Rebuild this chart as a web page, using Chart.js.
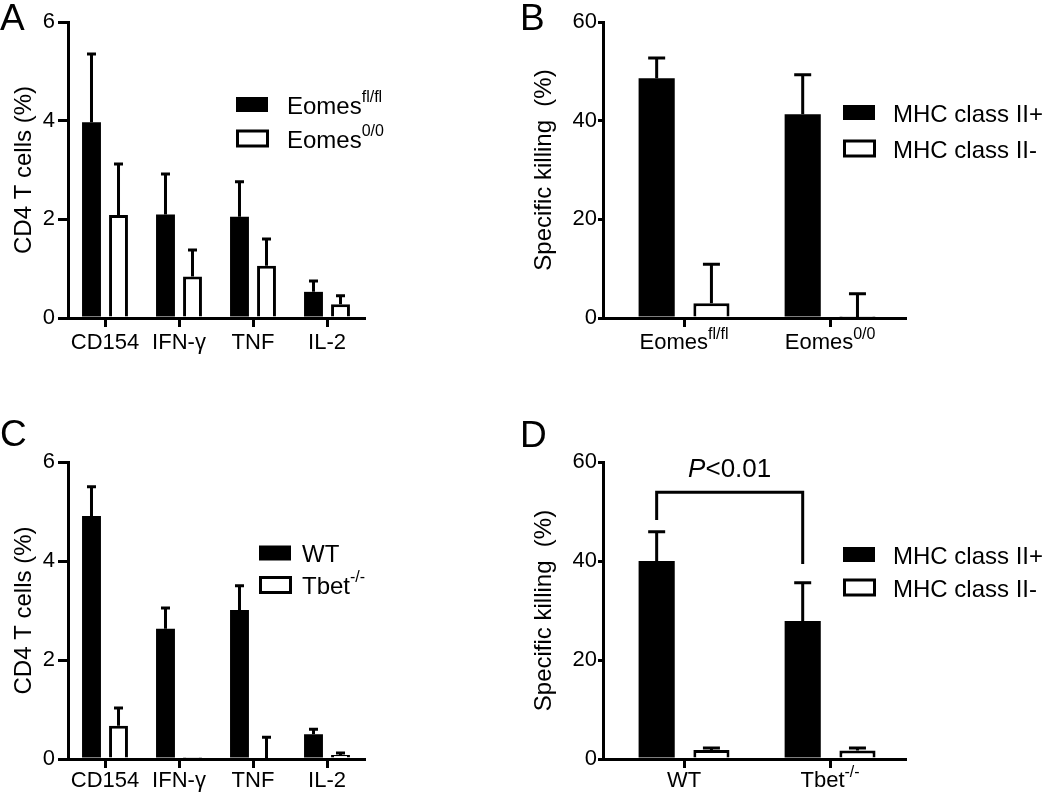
<!DOCTYPE html>
<html><head><meta charset="utf-8">
<script src="https://cdn.jsdelivr.net/npm/chart.js@4.4.1/dist/chart.umd.min.js"></script>
<style>
html,body{margin:0;padding:0;background:#fff;}
#wrap{position:relative;width:1050px;height:798px;overflow:hidden;background:#fff;}
canvas{position:absolute;}
</style></head><body>
<div id="wrap">
<canvas id="cA" width="520" height="390" style="left:0;top:0;width:520px;height:390px"></canvas>
<canvas id="cB" width="530" height="390" style="left:520px;top:0;width:530px;height:390px"></canvas>
<canvas id="cC" width="520" height="408" style="left:0;top:390px;width:520px;height:408px"></canvas>
<canvas id="cD" width="530" height="408" style="left:520px;top:390px;width:530px;height:408px"></canvas>
</div>
<script>
// ---------------- DATA ----------------
const cytokines = ['CD154', 'IFN-γ', 'TNF', 'IL-2'];
const cd4Ticks = [0, 2, 4, 6];
const killTicks = [0, 20, 40, 60];

// Panel A
const eomesFlFlMean = [3.97, 2.10, 2.05, 0.53];
const eomesFlFlSem  = [1.38, 0.82, 0.71, 0.22];
const eomes00Mean   = [2.09, 0.84, 1.06, 0.28];
const eomes00Sem    = [1.03, 0.54, 0.54, 0.17];

// Panel B
const killGroupsEomes     = ['Eomes fl/fl', 'Eomes 0/0'];
const killGroupsEomesBase = ['Eomes', 'Eomes'];
const killGroupsEomesSup  = ['fl/fl', '0/0'];
const mhcPosEomesMean = [48.6, 41.3];
const mhcPosEomesSem  = [4.1, 8.0];
const mhcNegEomesMean = [3.0, 0.2];
const mhcNegEomesSem  = [7.9, 4.7];

// Panel C
const wtMean   = [4.91, 2.63, 3.01, 0.50];
const wtSem    = [0.59, 0.42, 0.49, 0.10];
const tbetMean = [0.67, 0.02, 0.00, 0.08];
const tbetSem  = [0.36, 0.00, 0.44, 0.04];

// Panel D
const killGroupsTbet     = ['WT', 'Tbet-/-'];
const killGroupsTbetBase = ['WT', 'Tbet'];
const killGroupsTbetSup  = ['', '-/-'];
const mhcPosTbetMean = [40.0, 27.9];
const mhcPosTbetSem  = [5.9, 7.7];
const mhcNegTbetMean = [1.8, 1.7];
const mhcNegTbetSem  = [0.4, 0.5];
const sigBracket = { italic: 'P', rest: '<0.01', top: 53.9, leftEnd: 48.3, rightEnd: 39.4 };

// -------------- DRAWING ---------------
const F = "'Liberation Sans', Arial, Helvetica, sans-serif";

function drawSup(ctx, base, sup, x, y, size, supSize, rise, align) {
  ctx.font = size + 'px ' + F;
  const wb = ctx.measureText(base).width;
  ctx.font = supSize + 'px ' + F;
  const ws = sup ? ctx.measureText(sup).width : 0;
  const x0 = align === 'center' ? x - (wb + ws) / 2 : x;
  ctx.textAlign = 'left';
  ctx.textBaseline = 'alphabetic';
  ctx.fillStyle = '#000';
  ctx.font = size + 'px ' + F;
  ctx.fillText(base, x0, y);
  if (sup) {
    ctx.font = supSize + 'px ' + F;
    ctx.fillText(sup, x0 + wb, y - rise);
  }
}

const deco = {
  id: 'deco',
  afterDatasetsDraw(chart, args, o) {
    const ctx = chart.ctx, ys = chart.scales.y;
    ctx.save();
    ctx.strokeStyle = '#000';
    ctx.lineWidth = 3;
    chart.data.datasets.forEach((ds, di) => {
      const meta = chart.getDatasetMeta(di);
      meta.data.forEach((bar, i) => {
        const e = ds.errorBars[i];
        if (!e) return;
        const v = ds.data[i];
        const y0 = ys.getPixelForValue(v), y1 = ys.getPixelForValue(v + e);
        ctx.beginPath();
        ctx.moveTo(bar.x, y0); ctx.lineTo(bar.x, y1);
        ctx.moveTo(bar.x - o.capHalf, y1); ctx.lineTo(bar.x + o.capHalf, y1);
        ctx.stroke();
      });
    });
    ctx.restore();
  },
  afterDraw(chart, args, o) {
    const ctx = chart.ctx, xs = chart.scales.x, ys = chart.scales.y, ca = chart.chartArea;
    ctx.save();
    // category labels
    o.xBase.forEach((b, i) => {
      drawSup(ctx, b, o.xSup ? o.xSup[i] : '', xs.getPixelForTick(i), ca.bottom + o.labelOffset, 22, 16, 10, 'center');
    });
    // legend
    const L = o.legend;
    L.items.forEach((it, i) => {
      const yc = L.rows[i];
      if (it.fill === '#000') {
        ctx.fillStyle = '#000';
        ctx.fillRect(L.x, yc - 7.5, 32, 15);
      } else {
        ctx.strokeStyle = '#000'; ctx.lineWidth = 3;
        ctx.strokeRect(L.x + 1.5, yc - 7.5, 30, 15);
      }
      drawSup(ctx, it.base, it.sup, L.textX, yc + 9, 24, 16, 12, 'left');
    });
    // panel letter
    ctx.fillStyle = '#000';
    ctx.font = '37px ' + F;
    ctx.textAlign = 'left'; ctx.textBaseline = 'alphabetic';
    ctx.fillText(o.letter, 0, o.letterY);
    // significance bracket
    if (o.bracket) {
      const B = o.bracket;
      const m = chart.getDatasetMeta(0);
      const x1 = m.data[0].x, x2 = m.data[1].x;
      const yt = ys.getPixelForValue(B.top);
      ctx.strokeStyle = '#000'; ctx.lineWidth = 3;
      ctx.beginPath();
      ctx.moveTo(x1, ys.getPixelForValue(B.leftEnd));
      ctx.lineTo(x1, yt); ctx.lineTo(x2, yt);
      ctx.lineTo(x2, ys.getPixelForValue(B.rightEnd));
      ctx.stroke();
      ctx.font = 'italic 26px ' + F;
      const wi = ctx.measureText(B.italic).width;
      ctx.font = '26px ' + F;
      const wr = ctx.measureText(B.rest).width;
      const sx = (x1 + x2) / 2 - (wi + wr) / 2;
      ctx.fillStyle = '#000';
      ctx.font = 'italic 26px ' + F;
      ctx.fillText(B.italic, sx, yt - 15);
      ctx.font = '26px ' + F;
      ctx.fillText(B.rest, sx + wi, yt - 15);
    }
    ctx.restore();
  }
};

function makeChart(id, cfg) {
  const xScale = {
    type: 'category',
    offset: true,
    grid: { display: true, drawOnChartArea: false, drawTicks: true, tickLength: 9, lineWidth: 3, color: '#000', offset: false },
    border: { display: true, color: '#000', width: 3, z: 1 },
    ticks: { display: false },
    afterFit: s => { s.height = cfg.h - cfg.area.bottom; }
  };
  if (cfg.shift) {
    xScale.afterBuildTicks = s => { s._startValue = cfg.shift.start; s._valueRange = cfg.shift.range; };
  }
  return new Chart(document.getElementById(id), {
    type: 'bar',
    data: {
      labels: cfg.labels,
      datasets: cfg.series.map(d => ({
        label: d.label, data: d.data, errorBars: d.err,
        backgroundColor: d.fill, borderColor: '#000', borderWidth: d.fill === '#000' ? 0 : 3, borderSkipped: 'start',
        categoryPercentage: cfg.catPct, barPercentage: cfg.barPct
      }))
    },
    options: {
      responsive: false, animation: false, devicePixelRatio: 1,
      layout: { padding: { left: 0, top: cfg.area.top, right: cfg.w - cfg.area.right, bottom: 0 } },
      plugins: { legend: { display: false }, tooltip: { enabled: false }, deco: cfg.deco },
      scales: {
        x: xScale,
        y: {
          type: 'linear',
          min: cfg.ticks[0], max: cfg.ticks[cfg.ticks.length - 1],
          ticks: { stepSize: cfg.ticks[1] - cfg.ticks[0], font: { family: F, size: 22 }, color: '#000', padding: cfg.tickPad },
          grid: { drawOnChartArea: false, drawTicks: true, tickLength: cfg.tickLen, lineWidth: 3, color: '#000' },
          border: { display: true, color: '#000', width: 3, z: 1 },
          title: { display: true, text: cfg.yTitle, font: { family: F, size: 24 }, color: '#000', padding: { top: 10, bottom: 0 } },
          afterFit: s => { s.width = cfg.area.left; }
        }
      }
    },
    plugins: [deco]
  });
}

makeChart('cA', {
  w: 520, h: 390, area: { left: 68, top: 22, right: 364, bottom: 318 },
  labels: cytokines, ticks: cd4Ticks, yTitle: 'CD4 T cells (%)', tickLen: 10, tickPad: 3,
  catPct: 0.73, barPct: 0.70,
  series: [
    { label: 'Eomes fl/fl', data: eomesFlFlMean, err: eomesFlFlSem, fill: '#000' },
    { label: 'Eomes 0/0', data: eomes00Mean, err: eomes00Sem, fill: '#fff' }
  ],
  deco: {
    letter: 'A', letterY: 30, capHalf: 4.5, labelOffset: 31,
    xBase: cytokines, xSup: null,
    legend: { x: 236, textX: 287, rows: [104.5, 138.5],
      items: [{ base: 'Eomes', sup: 'fl/fl', fill: '#000' }, { base: 'Eomes', sup: '0/0', fill: '#fff' }] }
  }
});

makeChart('cB', {
  w: 530, h: 390, area: { left: 83, top: 22, right: 385, bottom: 318 },
  labels: killGroupsEomes, ticks: killTicks, yTitle: 'Specific killing  (%)', tickLen: 5, tickPad: 1,
  catPct: 0.75, barPct: 0.66, shift: { start: -0.555, range: 2.068 },
  series: [
    { label: 'MHC class II+', data: mhcPosEomesMean, err: mhcPosEomesSem, fill: '#000' },
    { label: 'MHC class II-', data: mhcNegEomesMean, err: mhcNegEomesSem, fill: '#fff' }
  ],
  deco: {
    letter: 'B', letterY: 30, capHalf: 8.5, labelOffset: 31,
    xBase: killGroupsEomesBase, xSup: killGroupsEomesSup,
    legend: { x: 323, textX: 373, rows: [112.5, 148.5],
      items: [{ base: 'MHC class II+', sup: '', fill: '#000' }, { base: 'MHC class II-', sup: '', fill: '#fff' }] }
  }
});

makeChart('cC', {
  w: 520, h: 408, area: { left: 68, top: 72, right: 364, bottom: 369 },
  labels: cytokines, ticks: cd4Ticks, yTitle: 'CD4 T cells (%)', tickLen: 10, tickPad: 3,
  catPct: 0.73, barPct: 0.70,
  series: [
    { label: 'WT', data: wtMean, err: wtSem, fill: '#000' },
    { label: 'Tbet-/-', data: tbetMean, err: tbetSem, fill: '#fff' }
  ],
  deco: {
    letter: 'C', letterY: 56, capHalf: 4.5, labelOffset: 28,
    xBase: cytokines, xSup: null,
    legend: { x: 259, textX: 302, rows: [163, 195],
      items: [{ base: 'WT', sup: '', fill: '#000' }, { base: 'Tbet', sup: '-/-', fill: '#fff' }] }
  }
});

makeChart('cD', {
  w: 530, h: 408, area: { left: 83, top: 72, right: 385, bottom: 369 },
  labels: killGroupsTbet, ticks: killTicks, yTitle: 'Specific killing  (%)', tickLen: 5, tickPad: 1,
  catPct: 0.75, barPct: 0.66, shift: { start: -0.555, range: 2.068 },
  series: [
    { label: 'MHC class II+', data: mhcPosTbetMean, err: mhcPosTbetSem, fill: '#000' },
    { label: 'MHC class II-', data: mhcNegTbetMean, err: mhcNegTbetSem, fill: '#fff' }
  ],
  deco: {
    letter: 'D', letterY: 57, capHalf: 8.5, labelOffset: 28,
    xBase: killGroupsTbetBase, xSup: killGroupsTbetSup,
    legend: { x: 323, textX: 373, rows: [164.5, 197.5],
      items: [{ base: 'MHC class II+', sup: '', fill: '#000' }, { base: 'MHC class II-', sup: '', fill: '#fff' }] },
    bracket: sigBracket
  }
});
</script>
</body></html>
